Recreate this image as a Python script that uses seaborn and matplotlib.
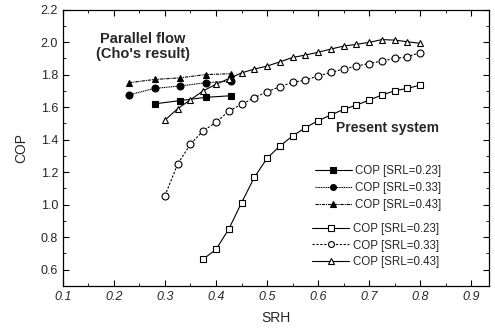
import numpy as np
import pandas as pd
import matplotlib
matplotlib.use("Agg")
import matplotlib.pyplot as plt
import seaborn as sns

# Parallel flow (Cho's result)
cho_srh_sq = [0.28, 0.33, 0.38, 0.43]
cho_cop_sq = [1.62, 1.64, 1.66, 1.67]
cho_srh = [0.23, 0.28, 0.33, 0.38, 0.43]
cho_cop_ci = [1.675, 1.715, 1.73, 1.75, 1.76]
cho_cop_tr = [1.75, 1.77, 1.78, 1.80, 1.805]

# Present system
srh = [0.30, 0.325, 0.35, 0.375, 0.40, 0.425, 0.45, 0.475, 0.50, 0.525, 0.55,
       0.575, 0.60, 0.625, 0.65, 0.675, 0.70, 0.725, 0.75, 0.775, 0.80]
cop_tr = [1.52, 1.59, 1.645, 1.70, 1.74, 1.775, 1.81, 1.834, 1.852, 1.878, 1.905,
          1.92, 1.937, 1.957, 1.975, 1.986, 1.998, 2.015, 2.012, 2.002, 1.992]
cop_ci = [1.055, 1.25, 1.372, 1.454, 1.506, 1.575, 1.617, 1.657, 1.695, 1.725, 1.752,
          1.766, 1.791, 1.813, 1.834, 1.852, 1.868, 1.883, 1.899, 1.909, 1.935]
srh_sq = srh[3:]
cop_sq = [0.665, 0.724, 0.849, 1.011, 1.167, 1.285, 1.36, 1.422, 1.473, 1.516,
          1.551, 1.586, 1.612, 1.643, 1.674, 1.70, 1.715, 1.735]

labels = ["COP [SRL=0.23]", "COP [SRL=0.33]", "COP [SRL=0.43]"]

sns.set_theme(style="ticks")
plt.rcParams['font.family'] = ['Liberation Sans', 'DejaVu Sans']

fig = plt.figure(figsize=(4.95, 3.29), dpi=100)
ax = fig.add_axes([0.127, 0.131, 0.861, 0.84])

kw = dict(color="black", linewidth=0.8, markersize=5, markeredgecolor="black",
          markeredgewidth=0.8)
sns.lineplot(x=cho_srh_sq, y=cho_cop_sq, marker="s", ax=ax, label=labels[0], **kw)
sns.lineplot(x=cho_srh, y=cho_cop_ci, marker="o", ax=ax, label=labels[1],
             linestyle=(0, (1, 0.6)), **kw)
sns.lineplot(x=cho_srh, y=cho_cop_tr, marker="^", ax=ax, label=labels[2],
             linestyle=(0, (3, 0.8, 1, 0.8)), **kw)
sns.lineplot(x=srh_sq, y=cop_sq, marker="s", ax=ax, label=labels[0],
             markerfacecolor="white", **kw)
sns.lineplot(x=srh, y=cop_ci, marker="o", ax=ax, label=labels[1],
             markerfacecolor="white", linestyle=(0, (2, 1.5)), **kw)
sns.lineplot(x=srh, y=cop_tr, marker="^", ax=ax, label=labels[2],
             markerfacecolor="white", **kw)

handles, labs = ax.get_legend_handles_labels()
lkw = dict(loc="upper left", frameon=False, fontsize=8.3, handlelength=3.2,
           handletextpad=0.3, borderpad=0.2, labelspacing=0.42, markerscale=0.85)
leg1 = ax.legend(handles[:3], labs[:3], bbox_to_anchor=(0.572, 0.465), **lkw)
ax.add_artist(leg1)
ax.legend(handles[3:], labs[3:], bbox_to_anchor=(0.566, 0.258), **lkw)

ax.text(0.257, 1.972, "Parallel flow\n(Cho's result)", fontsize=10.5, fontweight="bold",
        ha="center", va="center", linespacing=1.05)
ax.text(0.736, 1.471, "Present system", fontsize=10, fontweight="bold",
        ha="center", va="center")

ax.set_xlim(0.1, 0.935)
ax.set_ylim(0.5, 2.2)
ax.set_xticks(np.arange(0.1, 0.91, 0.1))
ax.set_xticklabels([f"{v:.1f}" for v in np.arange(0.1, 0.91, 0.1)], style="italic")
ax.set_yticks(np.arange(0.6, 2.21, 0.2))
ax.set_yticklabels([f"{v:.1f}" for v in np.arange(0.6, 2.21, 0.2)])
ax.set_xticks(np.arange(0.15, 0.94, 0.1), minor=True)
ax.set_yticks(np.arange(0.5, 2.2, 0.2), minor=True)
ax.tick_params(which="both", direction="in", top=True, right=True, labelsize=9,
               color="black")
ax.tick_params(which="major", length=4, width=0.8)
ax.tick_params(which="minor", length=2, width=0.6)
for s in ax.spines.values():
    s.set_linewidth(0.9)
    s.set_color("black")
ax.set_xlabel("SRH", fontsize=10, labelpad=6)
ax.set_ylabel("COP", fontsize=10, labelpad=9)

fig.savefig("out.png", dpi=100)
